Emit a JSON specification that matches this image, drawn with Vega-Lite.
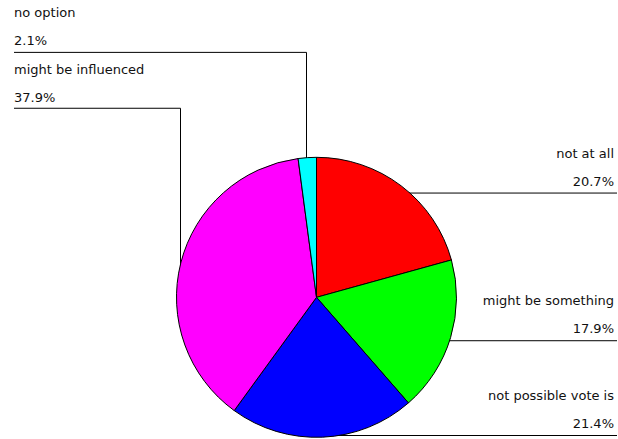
{
  "$schema": "https://vega.github.io/schema/vega-lite/v6.json",
  "width": 618,
  "height": 439,
  "autosize": {"type": "fit", "contains": "padding"},
  "padding": 0,
  "background": "white",
  "config": {"view": {"stroke": null}},
  "datasets": {
    "slices": [
      {"rank": 1, "category": "not at all", "share": 0.207, "side": "right", "lx": 614, "ly": 158},
      {"rank": 2, "category": "might be something", "share": 0.179, "side": "right", "lx": 614, "ly": 306},
      {"rank": 3, "category": "not possible vote is", "share": 0.214, "side": "right", "lx": 614, "ly": 401},
      {"rank": 4, "category": "might be influenced", "share": 0.379, "side": "left", "lx": 14, "ly": 74},
      {"rank": 5, "category": "no option", "share": 0.021, "side": "left", "lx": 14, "ly": 17}
    ],
    "leaders": [
      {"category": "not at all", "x": 405, "y": 193.5, "x2": 617, "y2": 193.5},
      {"category": "might be something", "x": 446, "y": 341.5, "x2": 617, "y2": 341.5},
      {"category": "not possible vote is", "x": 323, "y": 436.5, "x2": 617, "y2": 436.5},
      {"category": "no option", "x": 14, "y": 52.5, "x2": 306.5, "y2": 52.5},
      {"category": "no option", "x": 306.5, "y": 52.5, "x2": 306.5, "y2": 166},
      {"category": "might be influenced", "x": 14, "y": 108.5, "x2": 180.5, "y2": 108.5},
      {"category": "might be influenced", "x": 180.5, "y": 108.5, "x2": 180.5, "y2": 270}
    ]
  },
  "layer": [
    {
      "data": {"name": "leaders"},
      "mark": {"type": "rule", "color": "#000000", "strokeWidth": 1},
      "encoding": {
        "x": {"field": "x", "type": "quantitative", "scale": {"domain": [0, 618], "nice": false, "zero": false}, "axis": null},
        "y": {"field": "y", "type": "quantitative", "scale": {"domain": [0, 439], "reverse": true, "nice": false, "zero": false}, "axis": null},
        "x2": {"field": "x2"},
        "y2": {"field": "y2"}
      }
    },
    {
      "data": {"name": "slices"},
      "mark": {"type": "arc", "outerRadius": 140, "stroke": "black", "strokeWidth": 1},
      "encoding": {
        "x": {"datum": 316.5, "type": "quantitative"},
        "y": {"datum": 298, "type": "quantitative"},
        "theta": {"field": "share", "type": "quantitative", "stack": true},
        "order": {"field": "rank", "type": "quantitative"},
        "color": {
          "field": "category",
          "type": "nominal",
          "scale": {
            "domain": ["not at all", "might be something", "not possible vote is", "might be influenced", "no option"],
            "range": ["#ff0000", "#00ff00", "#0000ff", "#ff00ff", "#00ffff"]
          },
          "legend": null
        }
      }
    },
    {
      "data": {"name": "slices"},
      "transform": [{"filter": "datum.side === 'right'"}],
      "mark": {"type": "text", "align": "right", "baseline": "alphabetic", "font": "DejaVu Sans", "fontSize": 13, "color": "#111111"},
      "encoding": {
        "x": {"field": "lx", "type": "quantitative"},
        "y": {"field": "ly", "type": "quantitative"},
        "text": {"field": "category", "type": "nominal"}
      }
    },
    {
      "data": {"name": "slices"},
      "transform": [{"filter": "datum.side === 'right'"}],
      "mark": {"type": "text", "align": "right", "baseline": "alphabetic", "dy": 28, "font": "DejaVu Sans", "fontSize": 13, "color": "#111111"},
      "encoding": {
        "x": {"field": "lx", "type": "quantitative"},
        "y": {"field": "ly", "type": "quantitative"},
        "text": {"field": "share", "type": "quantitative", "format": ".1%"}
      }
    },
    {
      "data": {"name": "slices"},
      "transform": [{"filter": "datum.side === 'left'"}],
      "mark": {"type": "text", "align": "left", "baseline": "alphabetic", "font": "DejaVu Sans", "fontSize": 13, "color": "#111111"},
      "encoding": {
        "x": {"field": "lx", "type": "quantitative"},
        "y": {"field": "ly", "type": "quantitative"},
        "text": {"field": "category", "type": "nominal"}
      }
    },
    {
      "data": {"name": "slices"},
      "transform": [{"filter": "datum.side === 'left'"}],
      "mark": {"type": "text", "align": "left", "baseline": "alphabetic", "dy": 28, "font": "DejaVu Sans", "fontSize": 13, "color": "#111111"},
      "encoding": {
        "x": {"field": "lx", "type": "quantitative"},
        "y": {"field": "ly", "type": "quantitative"},
        "text": {"field": "share", "type": "quantitative", "format": ".1%"}
      }
    }
  ]
}
